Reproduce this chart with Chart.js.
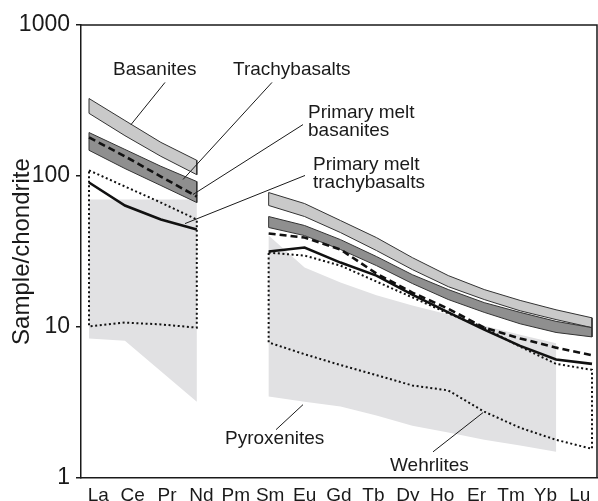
<!DOCTYPE html>
<html>
<head>
<meta charset="utf-8">
<script src="https://cdn.jsdelivr.net/npm/chart.js@4/dist/chart.umd.min.js"></script>
<style>
html, body { margin: 0; padding: 0; background: #fff; }
canvas { display: block; }
</style>
</head>
<body>
<canvas id="ree" width="598" height="501"></canvas>
<script>
// Chondrite-normalised REE patterns
const elements = ['La', 'Ce', 'Pr', 'Nd', 'Pm', 'Sm', 'Eu', 'Gd', 'Tb', 'Dy', 'Ho', 'Er', 'Tm', 'Yb', 'Lu'];
const yTicks = [1, 10, 100, 1000];

// element index positions (La..Nd, Sm..Lu, Sm..Yb)
const lreeIdx = [0, 1, 2, 3];
const hreeIdx = [5, 6, 7, 8, 9, 10, 11, 12, 13, 14];
const hreeIdxToYb = [5, 6, 7, 8, 9, 10, 11, 12, 13];

// Basanites field
const basanitesLreeHigh = [326, 233, 167, 127];
const basanitesLreeLow  = [260, 185, 135, 102];
const basanitesHreeHigh = [77.7, 65.7, 50.7, 39.1, 28.8, 21.9, 17.7, 15.0, 13.0, 11.5];
const basanitesHreeLow  = [63.8, 53.9, 42.2, 32.1, 24.0, 18.5, 15.2, 12.8, 11.2, 9.9];

// Trachybasalts field
const trachyLreeHigh = [194, 150, 116, 91.9];
const trachyLreeLow  = [148, 112, 86.5, 66.7];
const trachyHreeHigh = [53.9, 47.0, 37.9, 29.3, 22.2, 17.7, 14.5, 12.5, 10.9, 9.9];
const trachyHreeLow  = [45.6, 40.3, 32.6, 25.5, 19.4, 15.2, 12.5, 10.5, 9.2, 8.6];

// Primary melt basanites
const pmBasaniteLree = [180, 135, 99.2, 73.1];
const pmBasaniteHree = [41.6, 39.1, 32.6, 22.6, 16.9, 13.2, 9.9, 8.4, 7.3, 6.5];

// Primary melt trachybasalts
const pmTrachyLree = [90.6, 63.8, 51.5, 44.2];
const pmTrachyHree = [31.6, 33.6, 26.7, 21.9, 16.4, 12.5, 9.6, 7.5, 6.1, 5.7];

// Wehrlites envelope
const wehrliteLreeHigh = [109, 85.2, 66.7, 51.5];
const wehrliteLreeLow  = [10.1, 10.7, 10.4, 9.9];
const wehrliteHreeHigh = [31.1, 29.7, 25.5, 20.0, 15.7, 12.3, 9.9, 7.4, 5.7, 5.2];
const wehrliteHreeLow  = [7.9, 6.6, 5.6, 4.8, 4.1, 3.8, 2.75, 2.15, 1.79, 1.56];

// Pyroxenites field
const pyroxeniteLreeHigh = [69.9, 69.9, 69.9, 69.9];
const pyroxeniteLreeLow  = [8.4, 8.1, 5.1, 3.2];
const pyroxeniteHreeHigh = [40.3, 24.8, 19.7, 16.2, 13.9, 12.1, 10.2, 8.9, 7.8];
const pyroxeniteHreeLow  = [3.46, 3.20, 2.97, 2.59, 2.22, 2.00, 1.79, 1.64, 1.49];

const FONT = "'Liberation Sans', Arial, Helvetica, sans-serif";

function line(idx, vals) {
  return vals.map((v, i) => ({ x: idx[i], y: v }));
}
function outline(idx, high, low) {
  const top = line(idx, high);
  const bottom = line(idx, low).reverse();
  return [...top, ...bottom, top[0]];
}

const bandBorder = '#333333';
function fieldSet(data, fillColor, order) {
  return { data, showLine: true, fill: 'shape', backgroundColor: fillColor,
           borderColor: bandBorder, borderWidth: 1, pointRadius: 0, tension: 0, order };
}
function pyroxSet(data) {
  return { data, showLine: true, fill: 'shape', backgroundColor: '#e1e1e3',
           borderColor: 'rgba(0,0,0,0)', borderWidth: 0, pointRadius: 0, tension: 0, order: 10 };
}
function dottedSet(data) {
  return { data, showLine: true, fill: false, borderColor: '#111', borderWidth: 2,
           borderDash: [2, 2.6], pointRadius: 0, tension: 0, order: 9 };
}
function dashedSet(data) {
  return { data, showLine: true, fill: false, borderColor: '#111', borderWidth: 2.6,
           borderDash: [7, 4], pointRadius: 0, tension: 0, order: 2 };
}
function solidSet(data) {
  return { data, showLine: true, fill: false, borderColor: '#111', borderWidth: 2.6,
           pointRadius: 0, tension: 0, order: 1 };
}

const datasets = [
  pyroxSet(outline(lreeIdx, pyroxeniteLreeHigh, pyroxeniteLreeLow)),
  pyroxSet(outline(hreeIdxToYb, pyroxeniteHreeHigh, pyroxeniteHreeLow)),
  dottedSet(outline(lreeIdx, wehrliteLreeHigh, wehrliteLreeLow)),
  dottedSet(outline(hreeIdx, wehrliteHreeHigh, wehrliteHreeLow)),
  fieldSet(outline(lreeIdx, basanitesLreeHigh, basanitesLreeLow), '#c9c9c9', 6),
  fieldSet(outline(hreeIdx, basanitesHreeHigh, basanitesHreeLow), '#c9c9c9', 6),
  fieldSet(outline(lreeIdx, trachyLreeHigh, trachyLreeLow), '#8f8f8f', 5),
  fieldSet(outline(hreeIdx, trachyHreeHigh, trachyHreeLow), '#8f8f8f', 5),
  dashedSet(line(lreeIdx, pmBasaniteLree)),
  dashedSet(line(hreeIdx, pmBasaniteHree)),
  solidSet(line(lreeIdx, pmTrachyLree)),
  solidSet(line(hreeIdx, pmTrachyHree))
];

// Labels with leader lines, anchored in data units (element index, normalised value)
const callouts = [
  { lines: ['Basanites'], at: [0.668, 470], from: [2.115, 416.6], to: [1.169, 219] },
  { lines: ['Trachybasalts'], at: [4.008, 470], from: [5.093, 416.6], to: [2.616, 94.8] },
  { lines: ['Primary melt', 'basanites'], at: [6.095, 240.5], from: [5.956, 219], to: [2.894, 75.4] },
  { lines: ['Primary melt', 'trachybasalts'], at: [6.234, 108.8], from: [6.012, 100.8], to: [2.672, 48.4] },
  { lines: ['Pyroxenites'], at: [3.785, 1.688], from: [5.205, 2.09], to: [5.956, 3.06] },
  { lines: ['Wehrlites'], at: [8.377, 1.118], from: [9.574, 1.49], to: [10.966, 2.71] }
];

const framePlugin = {
  id: 'frame',
  afterDraw(chart) {
    const { ctx, chartArea: a } = chart;
    ctx.save();
    ctx.strokeStyle = '#1a1a1a';
    ctx.lineWidth = 1.5;
    ctx.beginPath();
    ctx.moveTo(a.left, a.top);
    ctx.lineTo(a.right, a.top);
    ctx.lineTo(a.right, a.bottom);
    ctx.stroke();
    ctx.restore();
  }
};

const calloutPlugin = {
  id: 'callouts',
  afterDatasetsDraw(chart) {
    const { ctx } = chart;
    const xs = chart.scales.x, ys = chart.scales.y;
    const px = p => [xs.getPixelForValue(p[0]), ys.getPixelForValue(p[1])];
    ctx.save();
    ctx.strokeStyle = '#1a1a1a';
    ctx.lineWidth = 1;
    ctx.fillStyle = '#1a1a1a';
    ctx.font = '19px ' + FONT;
    ctx.textAlign = 'left';
    ctx.textBaseline = 'alphabetic';
    for (const c of callouts) {
      const f = px(c.from), t = px(c.to);
      ctx.beginPath();
      ctx.moveTo(f[0], f[1]);
      ctx.lineTo(t[0], t[1]);
      ctx.stroke();
      const p = px(c.at);
      c.lines.forEach((s, i) => ctx.fillText(s, p[0], p[1] + i * 18));
    }
    ctx.restore();
  }
};

new Chart(document.getElementById('ree'), {
  type: 'scatter',
  data: { datasets },
  options: {
    responsive: false,
    animation: false,
    devicePixelRatio: 1,
    layout: { padding: { top: 25, right: 1, left: 0, bottom: 0 } },
    plugins: { legend: { display: false }, tooltip: { enabled: false } },
    scales: {
      x: {
        type: 'linear',
        display: false,
        min: -0.223,
        max: 14.139
      },
      xl: {
        type: 'category',
        labels: elements,
        position: 'bottom',
        offset: true,
        grid: { display: false },
        border: { display: true, color: '#1a1a1a', width: 1.5 },
        ticks: { color: '#1a1a1a', font: { family: FONT, size: 19 }, padding: -2, autoSkip: false, maxRotation: 0 },
        afterFit(scale) { scale.height = 23; }
      },
      y: {
        type: 'logarithmic',
        min: 1,
        max: 1000,
        position: 'left',
        afterBuildTicks(scale) { scale.ticks = yTicks.map(v => ({ value: v })); },
        afterFit(scale) { scale.width = 81; },
        grid: { drawOnChartArea: false, drawTicks: true, tickLength: 5, color: '#1a1a1a', lineWidth: 1.5 },
        border: { display: true, color: '#1a1a1a', width: 1.5 },
        ticks: { color: '#1a1a1a', font: { family: FONT, size: 23 }, padding: 6, callback: v => String(v) },
        title: { display: true, text: 'Sample/chondrite', color: '#1a1a1a',
                 font: { family: FONT, size: 24 }, padding: { top: 8, bottom: 0 } }
      }
    }
  },
  plugins: [framePlugin, calloutPlugin]
});
</script>
</body>
</html>
